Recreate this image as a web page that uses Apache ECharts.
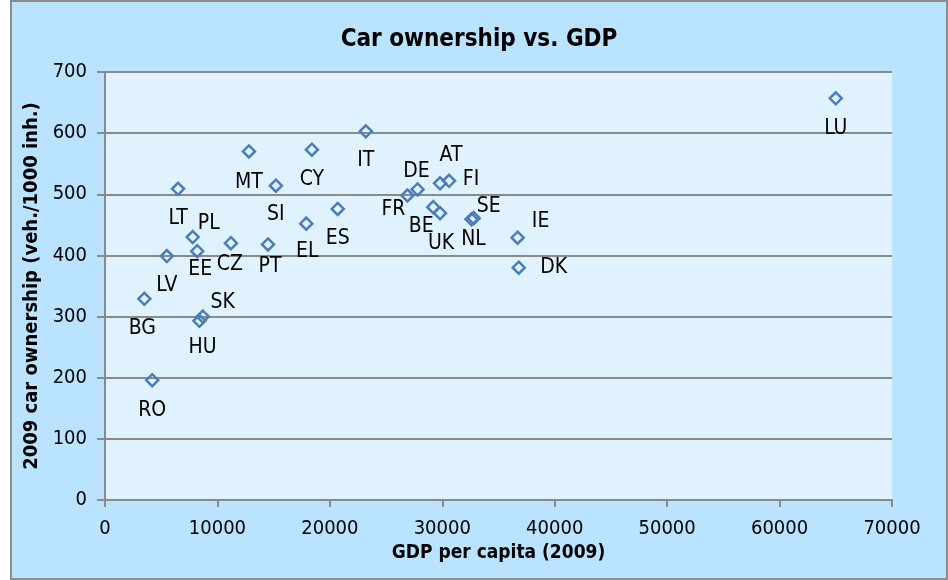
<!DOCTYPE html>
<html lang="en">
<head>
    <meta charset="UTF-8">
    <title>Car ownership vs. GDP</title>
    <script src="https://cdn.jsdelivr.net/npm/echarts@6/dist/echarts.min.js"></script>
    <style>
        body { margin: 0; background: #ffffff; }
        #chart {
            position: absolute; left: 10px; top: 0px;
            width: 934px; height: 576px;
            border: 2px solid #8d8d8d;
            background: #b9e3fe;
        }
    </style>
</head>
<body>
    <div id="chart"></div>
    <script type="text/javascript">

        // data
        var countries = ['LU', 'LT', 'PL', 'MT', 'SI', 'CY', 'EE', 'CZ', 'PT', 'EL', 'LV', 'BG', 'SK', 'HU', 'RO',
                         'IT', 'ES', 'DE', 'AT', 'FI', 'FR', 'BE', 'UK', 'SE', 'NL', 'IE', 'DK'];
        var gdpPerCapita = [65000, 6500, 7800, 12800, 15200, 18400, 8200, 11200, 14500, 17900, 5500, 3500, 8700, 8400, 4200,
                            23200, 20700, 27800, 29800, 30600, 26900, 29200, 29800, 32800, 32600, 36700, 36800];
        var carsPer1000 = [657, 509, 430, 570, 514, 573, 407, 420, 418, 452, 399, 329, 300, 293, 196,
                           603, 476, 508, 518, 522, 498, 479, 469, 461, 459, 429, 380];
        var xTicks = [0, 10000, 20000, 30000, 40000, 50000, 60000, 70000];
        var yTicks = [0, 100, 200, 300, 400, 500, 600, 700];

        // where each country label sits relative to its marker
        var labelOffset = {
            LU: [0, 30], LT: [0, 30], PL: [16, -14], MT: [0, 31], SI: [0, 29], CY: [0, 30],
            EE: [3, 18], CZ: [-1, 21], PT: [2, 22], EL: [1, 28], LV: [0, 30], BG: [-2, 30],
            SK: [20, -14], HU: [3, 27], RO: [0, 30], IT: [0, 29], ES: [0, 30], DE: [-1, -18],
            AT: [11, -28], FI: [22, -1], FR: [-14, 14], BE: [-12, 19], UK: [1, 30], SE: [15, -12],
            NL: [2, 20], IE: [23, -16], DK: [35, 0]
        };

        var font = "'DejaVu Sans Condensed', 'DejaVu Sans', sans-serif";
        var gridGray = '#8a8a8a';

        var points = [];
        for (var i = 0; i < countries.length; i++) {
            points.push({
                name: countries[i],
                value: [gdpPerCapita[i], carsPer1000[i]],
                label: { offset: labelOffset[countries[i]] }
            });
        }

        var chart = echarts.init(document.getElementById('chart'));
        chart.setOption({
            backgroundColor: '#b9e3fe',
            animation: false,
            title: {
                text: 'Car ownership vs. GDP',
                left: 'center',
                top: 21,
                textStyle: { color: '#000', fontSize: 24, fontWeight: 'bold', fontFamily: font }
            },
            grid: {
                left: 93, right: 54, top: 70, bottom: 78,
                show: true,
                backgroundColor: '#e0f2fe',
                borderWidth: 0
            },
            xAxis: {
                type: 'value',
                min: xTicks[0],
                max: xTicks[xTicks.length - 1],
                interval: 10000,
                name: 'GDP per capita (2009)',
                nameLocation: 'middle',
                nameGap: 43,
                nameTextStyle: { color: '#000', fontSize: 19, fontWeight: 'bold', fontFamily: font },
                axisLine: { show: true, lineStyle: { color: gridGray, width: 2 } },
                axisTick: { show: true, length: 7, lineStyle: { color: gridGray, width: 2 } },
                axisLabel: { color: '#000', fontSize: 20, fontFamily: font, margin: 19,
                             formatter: function (v) { return String(v); } },
                splitLine: { show: false }
            },
            yAxis: {
                type: 'value',
                min: yTicks[0],
                max: yTicks[yTicks.length - 1],
                interval: 100,
                name: '2009 car ownership (veh./1000 inh.)',
                nameLocation: 'middle',
                nameGap: 59,
                nameTextStyle: { color: '#000', fontSize: 20, fontWeight: 'bold', fontFamily: font },
                axisLine: { show: true, lineStyle: { color: gridGray, width: 2 } },
                axisTick: { show: true, length: 8, lineStyle: { color: gridGray, width: 2 } },
                axisLabel: { color: '#000', fontSize: 20, fontFamily: font, margin: 18 },
                splitLine: { show: true, lineStyle: { color: gridGray, width: 2 } }
            },
            series: [{
                type: 'scatter',
                symbol: 'diamond',
                symbolSize: 12,
                itemStyle: { color: 'rgba(255,255,255,0)', borderColor: '#4a7ebb', borderWidth: 2.5, opacity: 1 },
                label: {
                    show: true,
                    position: 'inside',
                    formatter: '{b}',
                    color: '#000',
                    textBorderWidth: 0,
                    fontSize: 21,
                    fontFamily: font
                },
                data: points
            }]
        });

    </script>
</body>
</html>
